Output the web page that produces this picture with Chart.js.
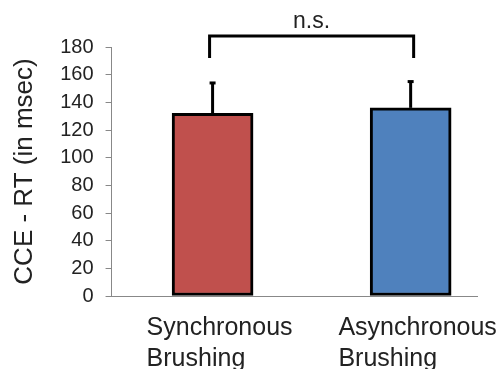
<!DOCTYPE html>
<html>
<head>
<meta charset="utf-8">
<script src="https://cdn.jsdelivr.net/npm/chart.js@4"></script>
<style>
  html, body { margin: 0; padding: 0; background: #fff; }
  #wrap { width: 502px; height: 369px; position: relative; }
</style>
</head>
<body>
<div id="wrap"><canvas id="rt-chart"></canvas></div>
<script>
var categories = [['Synchronous', 'Brushing'], ['Asynchronous', 'Brushing']];
var means = [132, 136];
var errors = [22, 19];
var barColors = ['#C0504D', '#4F81BD'];
var yTicks = [0, 20, 40, 60, 80, 100, 120, 140, 160, 180];
var sigLabel = 'n.s.';
var bracketTop = 188;
var bracketFoot = 172;

var FONT = '"Liberation Sans", Arial, Helvetica, sans-serif';

// error bars (upper only) drawn from the bar tops
var errorBars = {
    id: 'errorBars',
    afterDatasetsDraw: function (chart) {
        var ctx = chart.ctx;
        var xs = chart.scales.x, ys = chart.scales.y;
        ctx.save();
        ctx.strokeStyle = '#000';
        ctx.lineWidth = 3;
        for (let i = 0; i < means.length; i++) {
            var px = xs.getPixelForValue(i);
            var y0 = ys.getPixelForValue(means[i]);
            var y1 = ys.getPixelForValue(means[i] + errors[i]);
            ctx.beginPath();
            ctx.moveTo(px, y0);
            ctx.lineTo(px, y1);
            ctx.stroke();
            ctx.beginPath();
            ctx.moveTo(px - 3, y1);
            ctx.lineTo(px + 3, y1);
            ctx.stroke();
        }
        ctx.restore();
    }
};

// significance bracket + n.s., and left aligned category labels
var annotations = {
    id: 'annotations',
    afterDraw: function (chart) {
        var ctx = chart.ctx;
        var xs = chart.scales.x, ys = chart.scales.y;
        var xa = xs.getPixelForValue(0) - 3;
        var xb = xs.getPixelForValue(1) + 3;
        var yt = ys.getPixelForValue(bracketTop);
        var yf = ys.getPixelForValue(bracketFoot);
        ctx.save();
        ctx.strokeStyle = '#000';
        ctx.lineWidth = 3;
        ctx.beginPath();
        ctx.moveTo(xa, yf);
        ctx.lineTo(xa, yt);
        ctx.lineTo(xb, yt);
        ctx.lineTo(xb, yf);
        ctx.stroke();

        ctx.fillStyle = '#222';
        ctx.font = '23px ' + FONT;
        ctx.textAlign = 'center';
        ctx.textBaseline = 'alphabetic';
        ctx.fillText(sigLabel, (xa + xb) / 2, yt - 8);

        ctx.font = '25px ' + FONT;
        ctx.textAlign = 'left';
        for (let i = 0; i < categories.length; i++) {
            var lines = categories[i];
            var w = 0;
            lines.forEach(function (l) { w = Math.max(w, ctx.measureText(l).width); });
            var left = xs.getPixelForValue(i) - w / 2 + 7;
            for (let j = 0; j < lines.length; j++) {
                ctx.fillText(lines[j], left, xs.top + 39 + j * 31);
            }
        }
        ctx.restore();
    }
};

new Chart(document.getElementById('rt-chart'), {
    type: 'bar',
    data: {
        datasets: [{
            data: means.map(function (v, i) { return { x: i, y: v }; }),
            backgroundColor: barColors,
            borderColor: '#000',
            borderWidth: 3,
            borderSkipped: false,
            barThickness: 81
        }]
    },
    options: {
        responsive: true,
        maintainAspectRatio: false,
        animation: false,
        layout: { padding: { top: 47, right: 25, bottom: 0, left: 0 } },
        plugins: { legend: { display: false }, tooltip: { enabled: false } },
        scales: {
            x: {
                type: 'linear',
                offset: false,
                min: -0.51,
                max: 1.335,
                grid: { display: false, offset: false },
                border: { display: true, color: '#888', width: 1 },
                ticks: { display: false },
                afterFit: function (s) { s.height = 73; }
            },
            y: {
                min: 0,
                max: 180,
                afterBuildTicks: function (s) {
                    s.ticks = yTicks.map(function (v) { return { value: v }; });
                },
                grid: { drawOnChartArea: false, drawTicks: true, tickLength: 6, color: '#888' },
                border: { color: '#888', width: 1 },
                ticks: { padding: 12, color: '#222', font: { family: FONT, size: 20 } },
                title: {
                    display: true,
                    text: 'CCE - RT (in msec)',
                    color: '#222',
                    font: { family: FONT, size: 26 },
                    padding: { top: 9, bottom: 8 }
                }
            }
        }
    },
    plugins: [errorBars, annotations]
});
</script>
</body>
</html>
